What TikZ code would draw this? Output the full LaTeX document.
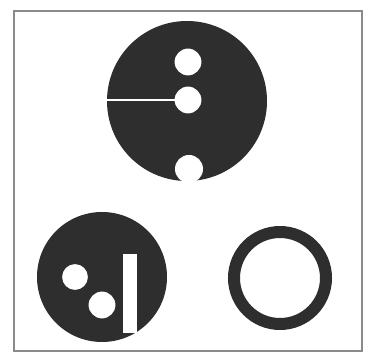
\documentclass[tikz,border=0pt]{standalone}
\begin{document}
\begin{tikzpicture}[x=1pt,y=-1pt]
\definecolor{ink}{HTML}{2E2E2E}
\definecolor{framec}{HTML}{8A8A8A}
\tikzset{disc/.style={fill=ink,even odd rule}, hole/.style={fill=white}}
\useasboundingbox (0,0) rectangle (373,358);
\fill[white] (0,0) rectangle (373,358);
% frame
\draw[framec,line width=1.4pt] (14,11) rectangle (362,351);
% top disc with holes
\fill[disc] (187,101) circle (80) (188,62) circle (13.5) (188,100) circle (13.5);
\fill[hole] (189,169) circle (14);
\draw[white,line width=1.2pt] (107,100) -- (176,100);
% bottom-left disc
\fill[disc] (102,277) circle (65) (75,277) circle (13) (102,305) circle (13.5);
\fill[hole] (123,254) rectangle (137,333);
% ring
\draw[ink,line width=12pt] (280,278) circle (46);
\end{tikzpicture}
\end{document}
